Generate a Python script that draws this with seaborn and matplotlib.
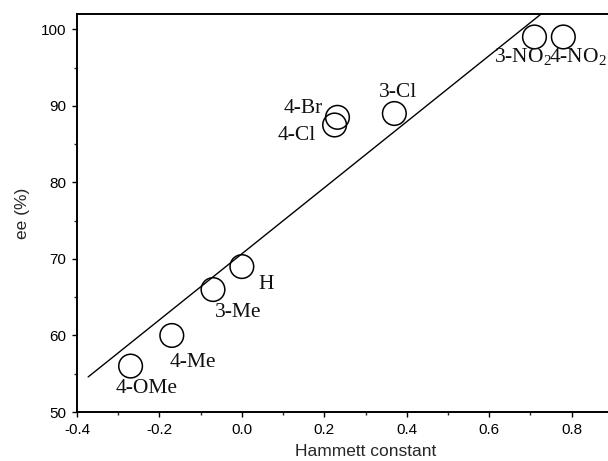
import numpy as np
import pandas as pd
import matplotlib
matplotlib.use("Agg")
import matplotlib.pyplot as plt
import seaborn as sns

# ---- data ----
substituents = ["4-OMe", "4-Me", "3-Me", "H", "4-Cl", "4-Br", "3-Cl", "3-NO$_2$", "4-NO$_2$"]
hammett = [-0.27, -0.17, -0.07, 0.00, 0.225, 0.232, 0.37, 0.71, 0.78]
ee = [56.0, 60.0, 66.0, 69.0, 87.5, 88.5, 89.0, 99.0, 99.0]

x_ticks = [-0.4, -0.2, 0.0, 0.2, 0.4, 0.6, 0.8]
y_ticks = [50, 60, 70, 80, 90, 100]

df = pd.DataFrame({"sub": substituents, "sigma": hammett, "ee": ee})

# linear fit of ee vs Hammett constant
slope, intercept = np.polyfit(df["sigma"], df["ee"], 1)
fit_x = np.array([-0.373, 0.80])
fit_df = pd.DataFrame({"x": fit_x, "y": slope * fit_x + intercept})

# ---- style ----
sns.set_theme(style="ticks")
plt.rcParams["font.family"] = ["Liberation Sans", "DejaVu Sans"]
plt.rcParams["mathtext.fontset"] = "custom"
plt.rcParams["mathtext.rm"] = "Liberation Serif"
plt.rcParams["mathtext.it"] = "Liberation Serif:italic"

fig = plt.figure(figsize=(6.08, 4.61), dpi=100)
ax = fig.add_axes([77 / 608, 49 / 461, 577 / 608, 398 / 461])

sns.lineplot(data=fit_df, x="x", y="y", ax=ax, color="black", linewidth=1.0)
sns.scatterplot(data=df, x="sigma", y="ee", ax=ax, s=290, marker="o",
                facecolor="none", edgecolor="black", linewidth=1.1, zorder=3)

# label offsets in points (dx, dy)
offsets = {
    "4-OMe": (11.5, -16.2),
    "4-Me": (15.5, -19.8),
    "3-Me": (18.0, -16.6),
    "H": (17.6, -12.6),
    "4-Br": (-24.8, 6.1),
    "4-Cl": (-27.4, -7.9),
    "3-Cl": (2.5, 15.1),
    "3-NO$_2$": (-8.0, -14.4),
    "4-NO$_2$": (10.4, -14.4),
}
for s, xv, yv in zip(df["sub"], df["sigma"], df["ee"]):
    ax.annotate(s, (xv, yv), xytext=offsets[s], textcoords="offset points",
                ha="center", va="center", fontsize=15.5,
                family=["Liberation Serif", "DejaVu Serif"], color="#111111")

ax.set_xlim(-0.4, 1.0)
ax.set_ylim(50, 102)
ax.set_xticks(x_ticks)
ax.set_xticklabels([f"{t:.1f}" for t in x_ticks])
ax.set_yticks(y_ticks)
ax.set_xticks(np.arange(-0.3, 1.0, 0.2), minor=True)
ax.set_yticks(np.arange(55, 101, 10), minor=True)

ax.tick_params(which="major", direction="out", length=3.6, width=1.0,
               labelsize=11, pad=4, colors="black")
ax.tick_params(which="minor", direction="out", length=2.2, width=1.0)
ax.tick_params(top=False, right=False)

for side in ["left", "bottom", "top", "right"]:
    ax.spines[side].set_visible(True)
    ax.spines[side].set_linewidth(1.4)
    ax.spines[side].set_color("black")

ax.set_xlabel("Hammett constant", fontsize=12.5, labelpad=5)
ax.set_ylabel("ee (%)", fontsize=12.5, labelpad=8)

fig.savefig("out.png", dpi=100)
